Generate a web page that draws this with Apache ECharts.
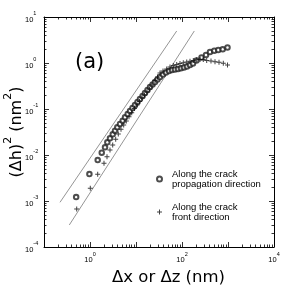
<!DOCTYPE html>
<html><head><meta charset="utf-8">
<script src="https://cdn.jsdelivr.net/npm/echarts@6/dist/echarts.min.js"></script>
<style>html,body{margin:0;padding:0;background:#fff}#c{width:291px;height:294px}</style>
</head><body><div id="c"></div>
<script>
// Along the crack propagation direction (circles)
const propX = [0.50, 0.97, 1.47, 1.80, 2.12, 2.38, 2.72, 3.12, 3.50, 3.92, 4.49, 5.14, 5.77, 6.60, 7.41, 8.39, 9.51, 10.8, 12.2, 13.9, 15.7, 17.8, 20.2, 22.9, 25.9, 29.3, 33.3, 38.6, 44.9, 52.2, 60.6, 70.4, 81.9, 95.1, 110.5, 128.4, 149.2, 173.4, 206.7, 265.4, 332.5, 406.2, 503.9, 615.2, 767.3, 975.2];
const propY = [0.00122, 0.00386, 0.00778, 0.01122, 0.0147, 0.01888, 0.02307, 0.02818, 0.03375, 0.04001, 0.0472, 0.05567, 0.066, 0.07785, 0.0905, 0.1051, 0.1222, 0.142, 0.165, 0.1917, 0.2228, 0.2588, 0.3007, 0.3408, 0.3863, 0.4379, 0.4964, 0.5623, 0.6215, 0.67, 0.7045, 0.7223, 0.7406, 0.7672, 0.7983, 0.8394, 0.9048, 0.9753, 1.133, 1.317, 1.493, 1.734, 1.851, 1.917, 1.986, 2.173];
// Along the crack front direction (plus signs)
const frontX = [0.514, 1.015, 1.47, 2.015, 2.342, 2.72, 3.115, 3.62, 4.123, 4.72, 5.40, 6.153, 7.044, 8.065, 9.28, 10.51, 11.92, 13.5, 15.3, 17.34, 19.66, 22.28, 25.88, 29.34, 33.25, 38.64, 46.5, 54.84, 64.7, 76.7, 90.4, 106.7, 126.6, 149.2, 176.1, 208.8, 246.3, 290.4, 344.4, 427.0, 521.7, 637.4, 790.6, 975.2];
const frontY = [0.00067, 0.001888, 0.003805, 0.0066, 0.00918, 0.01284, 0.0165, 0.02195, 0.0286, 0.03621, 0.0449, 0.05484, 0.06802, 0.08311, 0.1025, 0.1222, 0.1456, 0.1734, 0.2016, 0.2342, 0.2721, 0.3324, 0.4165, 0.4964, 0.6063, 0.67, 0.7406, 0.8187, 0.8825, 0.9277, 0.9753, 1.01, 1.051, 1.089, 1.133, 1.174, 1.191, 1.191, 1.133, 1.105, 1.067, 1.036, 0.985, 0.9048];
// Power-law fit lines (end points)
const fitPropX = [0.2228, 76.7];
const fitPropY = [0.000937, 4.963];
const fitFrontX = [0.3548, 185.1];
const fitFrontY = [0.0003008, 4.963];
// Axis ranges / labelled exponents
const xRange = [0.1, 10000];
const yRange = [0.0001, 10];
const xLabelExp = [0, 2, 4];
const yLabelExp = [-4, -3, -2, -1, 0, 1];
const legendNames = ['Along the crack\npropagation direction', 'Along the crack\nfront direction'];

const FONT = "'Liberation Sans', Arial, Helvetica, sans-serif";
const WFONT = "'DejaVu Sans', 'Liberation Sans', sans-serif";
const zip = (a, b) => a.map((v, i) => [v, b[i]]);
const supRich = {
  b: {fontSize: 7.5, fontFamily: FONT, color: '#000', lineHeight: 13, verticalAlign: 'bottom'},
  s: {fontSize: 5.5, fontFamily: FONT, color: '#000', verticalAlign: 'top'}
};
function expLabel(list) {
  return function (v) {
    const e = Math.round(Math.log10(v));
    if (list.indexOf(e) < 0) return '';
    return '{b|10}{s|' + e + '}';
  };
}
const axisLineStyle = {show: true, lineStyle: {color: '#000', width: 1}};
const tick = {show: true, inside: true, length: 5, lineStyle: {color: '#000', width: 0.8}};
const minor = {show: true, splitNumber: 9, length: 2.5, lineStyle: {color: '#000', width: 0.8}};

const chart = echarts.init(document.getElementById('c'), null, {renderer: 'canvas'});
chart.setOption({
  animation: false,
  backgroundColor: '#fff',
  grid: {left: 44, right: 17, top: 17, bottom: 47, outerBoundsMode: 'none'},
  xAxis: [
    {type: 'log', logBase: 10, min: xRange[0], max: xRange[1], position: 'bottom',
     axisLine: axisLineStyle, axisTick: tick, minorTick: minor, splitLine: {show: false},
     axisLabel: {formatter: expLabel(xLabelExp), rich: supRich, margin: 4},
     name: '\u0394x or \u0394z (nm)', nameLocation: 'middle', nameGap: 22, nameMoveOverlap: false,
     nameTextStyle: {fontSize: 16.5, fontFamily: WFONT, color: '#000', padding: [0, 0, 0, 19]}},
    {type: 'log', logBase: 10, min: xRange[0], max: xRange[1], position: 'top',
     axisLine: axisLineStyle, axisTick: tick, minorTick: minor, splitLine: {show: false},
     axisLabel: {show: false}}
  ],
  yAxis: [
    {type: 'log', logBase: 10, min: yRange[0], max: yRange[1], position: 'left',
     axisLine: axisLineStyle, axisTick: tick, minorTick: minor, splitLine: {show: false},
     axisLabel: {formatter: expLabel(yLabelExp), rich: supRich, margin: 19, align: 'left'},
     name: '{t|(\u0394h)}{s|2}{t| (nm}{s|2}{t|)}', nameLocation: 'middle', nameGap: 19, nameMoveOverlap: false,
     nameTextStyle: {rich: {
       t: {fontSize: 16, fontFamily: WFONT, color: '#000', lineHeight: 22, verticalAlign: 'bottom'},
       s: {fontSize: 11, fontFamily: WFONT, color: '#000', verticalAlign: 'top'}}}},
    {type: 'log', logBase: 10, min: yRange[0], max: yRange[1], position: 'right',
     axisLine: axisLineStyle, axisTick: tick, minorTick: minor, splitLine: {show: false},
     axisLabel: {show: false}}
  ],
  legend: {
    orient: 'vertical', left: 156, top: 169, padding: 0, itemWidth: 5, itemHeight: 5, itemGap: 13,
    data: legendNames,
    textStyle: {fontSize: 9.5, lineHeight: 10, fontFamily: FONT, color: '#000', padding: [0, 0, 0, 5]}
  },
  graphic: [{type: 'text', left: 75, top: 52, style: {text: '(a)', fontSize: 21, fontFamily: WFONT, fill: '#000'}}],
  series: [
    {type: 'line', data: zip(fitPropX, fitPropY), showSymbol: false, silent: true,
     lineStyle: {color: '#7a7a7a', width: 0.8}, z: 1},
    {type: 'line', data: zip(fitFrontX, fitFrontY), showSymbol: false, silent: true,
     lineStyle: {color: '#7a7a7a', width: 0.8}, z: 1},
    {name: legendNames[0], type: 'scatter', data: zip(propX, propY), symbol: 'emptyCircle', symbolSize: 4.5,
     itemStyle: {color: '#222', borderColor: '#222', borderWidth: 0.6}, z: 3},
    {name: legendNames[1], type: 'scatter', data: zip(frontX, frontY),
     symbol: 'path://M4,0H6V4H10V6H6V10H4V6H0V4H4Z', symbolSize: 5,
     itemStyle: {color: '#111'}, z: 3}
  ]
});
</script></body></html>
